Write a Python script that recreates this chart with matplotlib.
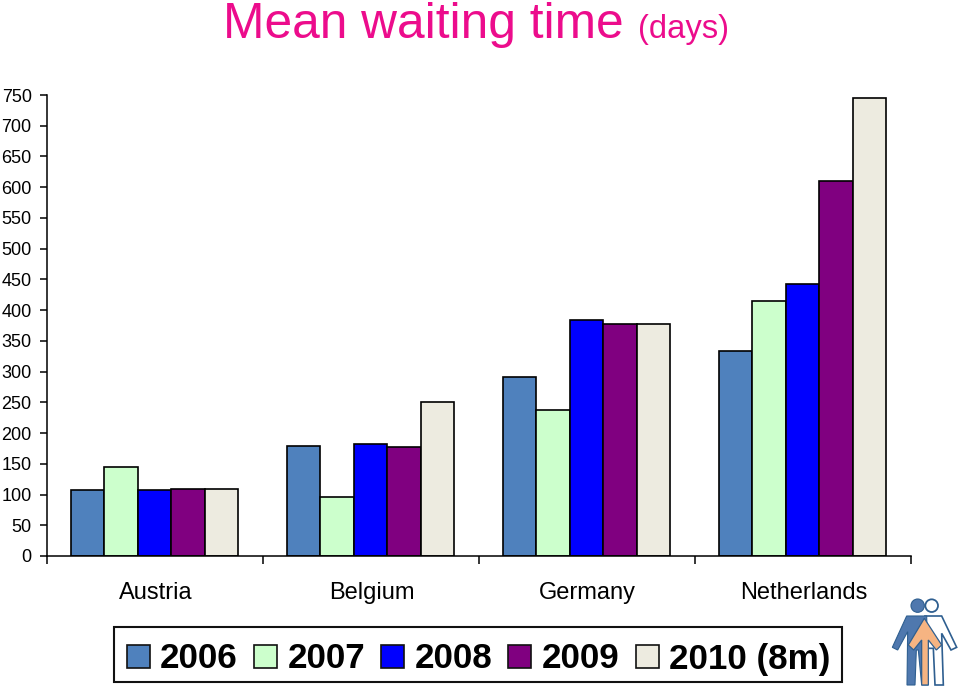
import numpy as np
import matplotlib
matplotlib.use("Agg")
import matplotlib.pyplot as plt
from matplotlib.patches import Polygon, Circle, Rectangle

plt.rcParams["font.family"] = ["Liberation Sans", "DejaVu Sans"]

COUNTRIES = ["Austria", "Belgium", "Germany", "Netherlands"]
YEARS = ["2006", "2007", "2008", "2009", "2010 (8m)"]
COLORS = ["#4F81BD", "#CCFFCC", "#0000FF", "#800080", "#EDEBE0"]

v2006 = [107, 179, 291, 333]
v2007 = [145, 96, 238, 415]
v2008 = [107, 182, 384, 442]
v2009 = [109, 177, 377, 610]
v2010 = [109, 250, 377, 745]
values = [v2006, v2007, v2008, v2009, v2010]

W, H = 960, 687
fig = plt.figure(figsize=(W / 100, H / 100), dpi=100)
ax = fig.add_axes([47 / W, 1 - 556 / H, (911 - 47) / W, (556 - 95) / H])

bar_w = 0.1546
x = np.arange(len(COUNTRIES)) - 0.002
for i, (vals, col) in enumerate(zip(values, COLORS)):
    ax.bar(x + (i - 2) * bar_w, vals, bar_w, color=col, edgecolor="black", linewidth=1.2)

ax.set_xlim(-0.5, 3.5)
ax.set_ylim(0, 750)
ax.set_yticks(np.arange(0, 751, 50))
ax.tick_params(axis="y", labelsize=13, length=5, width=1.1, pad=6)
ax.set_xticks(np.arange(-0.5, 3.6, 1))
ax.set_xticklabels([])
ax.tick_params(axis="x", which="major", length=5.5, width=1.1)
ax.set_xticks(np.arange(len(COUNTRIES)) + 0.004, minor=True)
ax.set_xticklabels(COUNTRIES, minor=True, fontsize=17)
ax.tick_params(axis="x", which="minor", length=0, pad=19)
ax.spines["top"].set_visible(False)
ax.spines["right"].set_visible(False)
ax.spines["left"].set_linewidth(1.1)
ax.spines["bottom"].set_linewidth(1.1)

# title is two sizes, so two text objects
fig.text(223 / W, 1 - 38 / H, "Mean waiting time", fontsize=35.7, color="#EC0C8C",
         ha="left", va="baseline")
fig.text(638 / W, 1 - 38 / H, "(days)", fontsize=23.6, color="#EC0C8C",
         ha="left", va="baseline")

# legend by hand, ax.legend shifts the last column because of the brackets
fig.add_artist(Rectangle((114 / W, 1 - 682 / H), 728 / W, 55 / H, fc="white", ec="#111111",
                         lw=1.5, transform=fig.transFigure))
for i, (year, col) in enumerate(zip(YEARS, COLORS)):
    step = i * 127.3
    fig.add_artist(Rectangle(((126.5 + step) / W, 1 - 668 / H), 23 / W, 23 / H, fc=col, ec="#111111",
                             lw=1.2, transform=fig.transFigure))
    fig.text((160 + step) / W, 1 - 668.5 / H, year, fontsize=25.2, fontweight="bold",
             ha="left", va="baseline")

# small logo, bottom right corner
logo = fig.add_axes([885 / W, 0, 75 / W, 97 / H])
logo.set_xlim(0, 225)
logo.set_ylim(291, 0)
logo.axis("off")
BLUE = "#4F78AE"
LINE = "#2F5F90"
logo.add_patch(Polygon([(120, 78), (170, 78), (215, 172), (198, 180), (170, 130), (175, 285),
                        (150, 285), (145, 175), (130, 175)], fc="white", ec=LINE, lw=1.2))
logo.add_patch(Polygon([(65, 78), (125, 78), (130, 285), (110, 285), (100, 180), (94, 180),
                        (90, 285), (66, 285), (68, 125), (38, 180), (22, 172)],
                       fc=BLUE, ec=LINE, lw=0.8))
logo.add_patch(Polygon([(118, 85), (170, 165), (154, 180), (130, 150), (130, 285), (110, 285),
                        (110, 150), (86, 180), (70, 165)], fc="#F6B482", ec=LINE, lw=0.9))
logo.add_patch(Circle((140, 47), 19, fc="white", ec=LINE, lw=1.3))
logo.add_patch(Circle((98, 47), 20, fc=BLUE, ec=LINE, lw=0.8))

fig.savefig("out.png", dpi=100)
